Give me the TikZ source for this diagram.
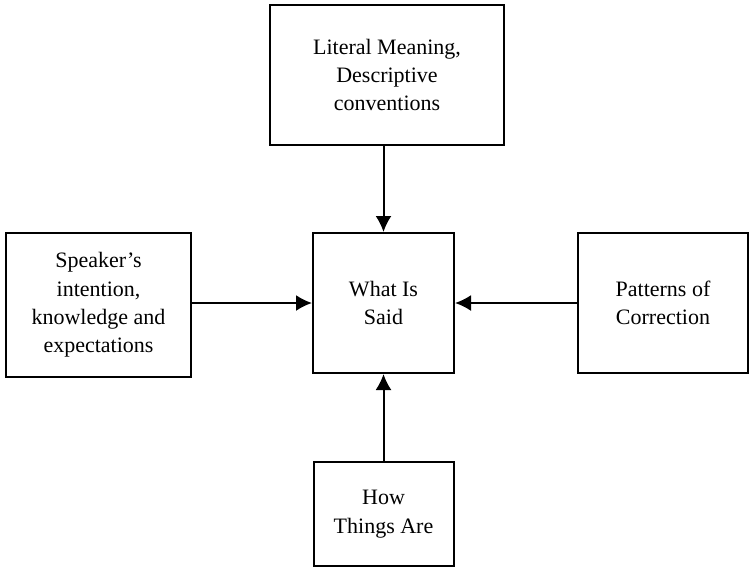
\documentclass[tikz,border=0pt]{standalone}
\usepackage{fontspec}
\setmainfont{Liberation Serif}
\usetikzlibrary{arrows.meta}

\begin{document}
\begin{tikzpicture}[x = 0.5pt, y = -0.5pt,
box/.style = {rectangle, draw, line width = 1pt, align = center, inner sep = 2pt,
  font = \fontsize{11}{14.2}\selectfont},
arr/.style = {-{Latex[length = 8pt, width = 8pt]}, line width = 1pt}]

\useasboundingbox (0,0) rectangle (749,568);

\node[box, minimum width = 117pt, minimum height = 70pt] (lit) at (387, 75) {Literal Meaning,\\Descriptive\\conventions};
\node[box, minimum width = 70.5pt, minimum height = 70pt] (said) at (383.5, 303) {What Is\\Said};
\node[box, minimum width = 92.5pt, minimum height = 72pt] (spk) at (98.5, 305) {Speaker’s\\intention,\\knowledge and\\expectations};
\node[box, minimum width = 85pt, minimum height = 70pt] (corr) at (663, 303) {Patterns of\\Correction};
\node[box, minimum width = 70pt, minimum height = 52pt] (how) at (383.5, 514) {How\\Things Are};

% Connect boxes
\draw[arr] (lit.south -| said) -- (said);
\draw[arr] (spk.east |- said) -- (said);
\draw[arr] (corr) -- (said);
\draw[arr] (how) -- (said);

\end{tikzpicture}
\end{document}
